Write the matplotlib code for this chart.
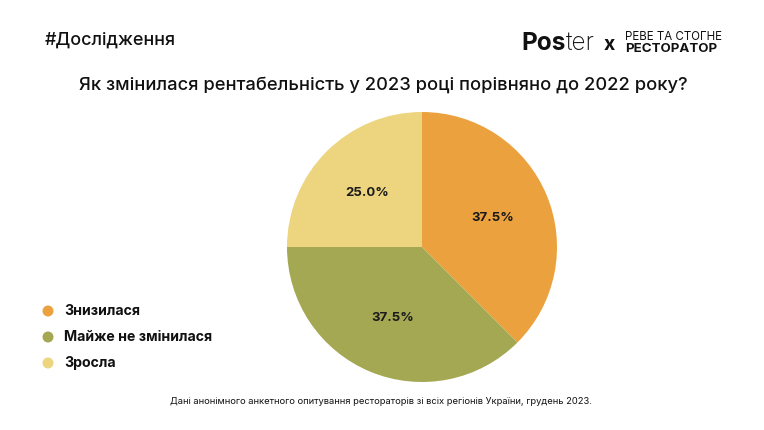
import numpy as np
import matplotlib
matplotlib.use("Agg")
import matplotlib.pyplot as plt

plt.rcParams['font.family'] = ['Inter', 'DejaVu Sans']

# ---- data
categories = ["Знизилася", "Майже не змінилася", "Зросла"]
shares = [37.5, 37.5, 25.0]
colors = ["#EBA23E", "#A5A853", "#EDD47F"]

title = "Як змінилася рентабельність у 2023 році порівняно до 2022 року?"
tag = "#Дослідження"
footer = "Дані анонімного анкетного опитування рестораторів зі всіх регіонів України, грудень 2023."

W, H = 764, 430
fig = plt.figure(figsize=(W / 100, H / 100), dpi=100)
fig.patch.set_facecolor("white")

def fx(px):
    return px / W

def fy(py):
    return 1 - py / H

# ---- pie
cx, cy, r = 422, 247, 135
ax = fig.add_axes([fx(cx - r), fy(cy + r), 2 * r / W, 2 * r / H])
ax.pie(shares, colors=colors, startangle=90, counterclock=False,
       autopct="%.1f%%", pctdistance=0.57, radius=1,
       textprops=dict(fontsize=9.5, fontweight="bold", color="#1a1a1a"),
       wedgeprops=dict(linewidth=0))
ax.set_xlim(-1, 1)
ax.set_ylim(-1, 1)
ax.set_aspect("equal")

# ---- texts
fig.text(fx(45), fy(40), tag, fontsize=12.9, fontweight="medium",
         ha="left", va="center", color="#111111")
fig.text(fx(383), fy(85), title, fontsize=13.2, fontweight="medium",
         ha="center", va="center", color="#111111")
fig.text(fx(381), fy(402), footer, fontsize=6.75,
         ha="center", va="center", color="#111111")

# ---- legend
leg_y = [311, 337, 363]
for lbl, col, y in zip(categories, colors, leg_y):
    fig.patches.append(matplotlib.patches.Ellipse(
        (fx(48), fy(y)), 11 / W, 11 / H, transform=fig.transFigure,
        facecolor=col, edgecolor="none"))
    fig.text(fx(64), fy(y), lbl, fontsize=10.2, fontweight="bold",
             ha="left", va="center", color="#111111")

# ---- logo
renderer = fig.canvas.get_renderer()
x0 = fx(521)
t1 = fig.text(x0, fy(43), "Pos", fontsize=17.5, fontweight="bold",
              ha="left", va="center", color="#111111")
w1 = t1.get_window_extent(renderer).width / W
fig.text(x0 + w1, fy(43), "ter", fontsize=17.5, fontweight="light",
         ha="left", va="center", color="#111111")
fig.text(fx(609), fy(45), "x", fontsize=14, fontweight="bold",
         ha="center", va="center", color="#111111")
fig.text(fx(625), fy(36.5), "РЕВЕ ТА СТОГНЕ", fontsize=8.3,
         ha="left", va="center", color="#111111")
fig.text(fx(625), fy(48.5), "РЕСТОРАТОР", fontsize=9.6, fontweight="bold",
         ha="left", va="center", color="#111111")

fig.savefig("out.png", dpi=100, facecolor="white")
